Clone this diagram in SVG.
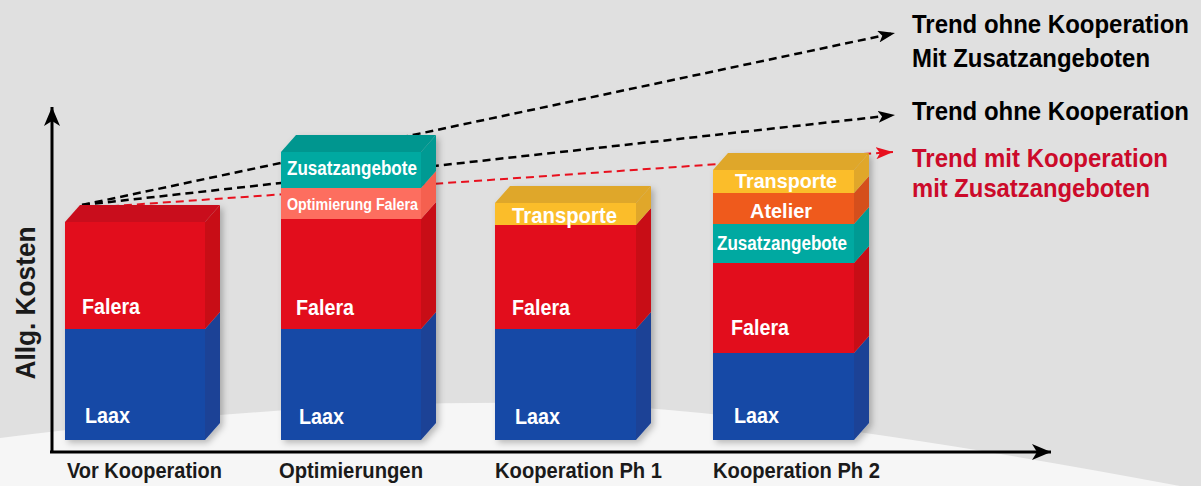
<svg xmlns="http://www.w3.org/2000/svg" width="1201" height="486" viewBox="0 0 1201 486">
<defs>
<marker id="ah" markerUnits="userSpaceOnUse" markerWidth="18" markerHeight="12" refX="17" refY="6" orient="auto"><path d="M0,0 L17,6 L0,12 L4,6 Z" fill="#000"/></marker>
<marker id="ahr" markerUnits="userSpaceOnUse" markerWidth="18" markerHeight="12" refX="17" refY="6" orient="auto"><path d="M0,0 L17,6 L0,12 L4,6 Z" fill="#e8101e"/></marker>
<marker id="axh" markerUnits="userSpaceOnUse" markerWidth="20" markerHeight="16" refX="19" refY="8" orient="auto"><path d="M0,0 L19,8 L0,16 L5,8 Z" fill="#000"/></marker>
<filter id="sh" x="-10%" y="-10%" width="130%" height="130%"><feDropShadow dx="3" dy="3" stdDeviation="3" flood-color="#000" flood-opacity="0.25"/></filter>
</defs>
<style>
.lbl{font-family:"Liberation Sans",Arial,sans-serif;font-weight:bold;fill:#fff}
.ax{font-family:"Liberation Sans",Arial,sans-serif;font-weight:bold;fill:#1a1a1a}
.lg{font-family:"Liberation Sans",Arial,sans-serif;font-weight:bold;font-size:25px}
.bf{fill:#1749a6}.bs{fill:#1a4296}
.rf{fill:#e20a1b}.rs{fill:#c80a17}.rt{fill:#c90b1b}
.tf{fill:#00a9a1}.ts{fill:#009a93}.tt{fill:#00968f}
.sf{fill:#fd6e5f}.ss{fill:#f5604f}
.yf{fill:#fbbd2a}.ys{fill:#e0a72b}.yt{fill:#dfa72a}
.of{fill:#ef5a1f}.os{fill:#d54f1f}
.dl{fill:none;stroke:#000;stroke-width:2.5;stroke-dasharray:8 5}
.dr{fill:none;stroke:#e8101e;stroke-width:2;stroke-dasharray:8 5}
</style>
<rect width="1201" height="486" fill="#e0e0e0"/>
<path d="M0,438 Q300,400 540,403 Q760,406 1201,490 V486 H0 Z" fill="#f6f6f6"/>

<g id="connectors">
<line class="dl" x1="82" y1="205" x2="895" y2="33" marker-end="url(#ah)"/>
<line class="dl" x1="82" y1="205" x2="895" y2="115" marker-end="url(#ah)"/>
<line class="dr" x1="85" y1="208" x2="893" y2="152" marker-end="url(#ahr)"/>
</g>

<g id="axes">
<line x1="52" y1="453" x2="52" y2="107" stroke="#000" stroke-width="3" marker-end="url(#axh)"/>
<line x1="50" y1="452" x2="1051" y2="452" stroke="#000" stroke-width="3" marker-end="url(#axh)"/>
<text class="ax" font-size="28" transform="translate(35,303) rotate(-90)" text-anchor="middle" textLength="153" lengthAdjust="spacingAndGlyphs">Allg. Kosten</text>
</g>

<g id="bar1" filter="url(#sh)">
<rect class="bf" x="65" y="329" width="140" height="111"/>
<polygon class="bs" points="205,329 220,312 220,423 205,440"/>
<rect class="rf" x="65" y="222" width="140" height="107"/>
<polygon class="rs" points="205,222 220,205 220,312 205,329"/>
<polygon class="rt" points="65,222 80,205 220,205 205,222"/>
</g>
<g id="bar1-labels">
<text class="lbl" x="82" y="314" font-size="22" textLength="58" lengthAdjust="spacingAndGlyphs">Falera</text>
<text class="lbl" x="85" y="423" font-size="22" textLength="45" lengthAdjust="spacingAndGlyphs">Laax</text>
<text class="ax" x="67" y="478" font-size="22" textLength="155" lengthAdjust="spacingAndGlyphs">Vor Kooperation</text>
</g>

<g id="bar2" filter="url(#sh)">
<rect class="bf" x="281" y="329" width="140" height="111"/>
<polygon class="bs" points="421,329 436,312 436,423 421,440"/>
<rect class="rf" x="281" y="219" width="140" height="110"/>
<polygon class="rs" points="421,219 436,202 436,312 421,329"/>
<rect class="sf" x="281" y="188" width="140" height="31"/>
<polygon class="ss" points="421,188 436,171 436,202 421,219"/>
<rect class="tf" x="281" y="152" width="140" height="36"/>
<polygon class="ts" points="421,152 436,135 436,171 421,188"/>
<polygon class="tt" points="281,152 296,135 436,135 421,152"/>
</g>
<g id="bar2-labels">
<text class="lbl" x="287" y="175" font-size="20" textLength="130" lengthAdjust="spacingAndGlyphs">Zusatzangebote</text>
<text class="lbl" x="287" y="210" font-size="17" textLength="131" lengthAdjust="spacingAndGlyphs">Optimierung Falera</text>
<text class="lbl" x="296" y="315" font-size="22" textLength="58" lengthAdjust="spacingAndGlyphs">Falera</text>
<text class="lbl" x="299" y="424" font-size="22" textLength="45" lengthAdjust="spacingAndGlyphs">Laax</text>
<text class="ax" x="279" y="478" font-size="22" textLength="144" lengthAdjust="spacingAndGlyphs">Optimierungen</text>
</g>

<g id="bar3" filter="url(#sh)">
<rect class="bf" x="495" y="329" width="141" height="111"/>
<polygon class="bs" points="636,329 651,312 651,423 636,440"/>
<rect class="rf" x="495" y="225" width="141" height="104"/>
<polygon class="rs" points="636,225 651,208 651,312 636,329"/>
<rect class="yf" x="495" y="203" width="141" height="22"/>
<polygon class="ys" points="636,203 651,186 651,208 636,225"/>
<polygon class="yt" points="495,203 510,186 651,186 636,203"/>
</g>
<g id="bar3-labels">
<text class="lbl" x="512" y="223" font-size="22" textLength="105" lengthAdjust="spacingAndGlyphs">Transporte</text>
<text class="lbl" x="512" y="315" font-size="22" textLength="58" lengthAdjust="spacingAndGlyphs">Falera</text>
<text class="lbl" x="515" y="424" font-size="22" textLength="45" lengthAdjust="spacingAndGlyphs">Laax</text>
<text class="ax" x="495" y="478" font-size="22" textLength="167" lengthAdjust="spacingAndGlyphs">Kooperation Ph 1</text>
</g>

<g id="bar4" filter="url(#sh)">
<rect class="bf" x="713" y="353" width="141" height="87"/>
<polygon class="bs" points="854,353 869,336 869,423 854,440"/>
<rect class="rf" x="713" y="263" width="141" height="90"/>
<polygon class="rs" points="854,263 869,246 869,336 854,353"/>
<rect class="tf" x="713" y="224" width="141" height="39"/>
<polygon class="ts" points="854,224 869,207 869,246 854,263"/>
<rect class="of" x="713" y="193" width="141" height="31"/>
<polygon class="os" points="854,193 869,176 869,207 854,224"/>
<rect class="yf" x="713" y="170" width="141" height="23"/>
<polygon class="ys" points="854,170 869,153 869,176 854,193"/>
<polygon class="yt" points="713,170 728,153 869,153 854,170"/>
</g>
<g id="bar4-labels">
<text class="lbl" x="735" y="188" font-size="20" textLength="102" lengthAdjust="spacingAndGlyphs">Transporte</text>
<text class="lbl" x="750" y="218" font-size="20" textLength="62" lengthAdjust="spacingAndGlyphs">Atelier</text>
<text class="lbl" x="717" y="250" font-size="20" textLength="130" lengthAdjust="spacingAndGlyphs">Zusatzangebote</text>
<text class="lbl" x="731" y="335" font-size="22" textLength="58" lengthAdjust="spacingAndGlyphs">Falera</text>
<text class="lbl" x="734" y="423" font-size="22" textLength="45" lengthAdjust="spacingAndGlyphs">Laax</text>
<text class="ax" x="713" y="478" font-size="22" textLength="167" lengthAdjust="spacingAndGlyphs">Kooperation Ph 2</text>
</g>

<g id="legend">
<text class="lg" x="912" y="33" fill="#000" font-size="24" textLength="277" lengthAdjust="spacingAndGlyphs">Trend ohne Kooperation</text>
<text class="lg" x="912" y="67" fill="#000" textLength="238" lengthAdjust="spacingAndGlyphs">Mit Zusatzangeboten</text>
<text class="lg" x="912" y="120" fill="#000" font-size="24" textLength="277" lengthAdjust="spacingAndGlyphs">Trend ohne Kooperation</text>
<text class="lg" x="912" y="167" fill="#cc0a2a" textLength="256" lengthAdjust="spacingAndGlyphs">Trend mit Kooperation</text>
<text class="lg" x="912" y="197" fill="#cc0a2a" textLength="238" lengthAdjust="spacingAndGlyphs">mit Zusatzangeboten</text>
</g>
</svg>
